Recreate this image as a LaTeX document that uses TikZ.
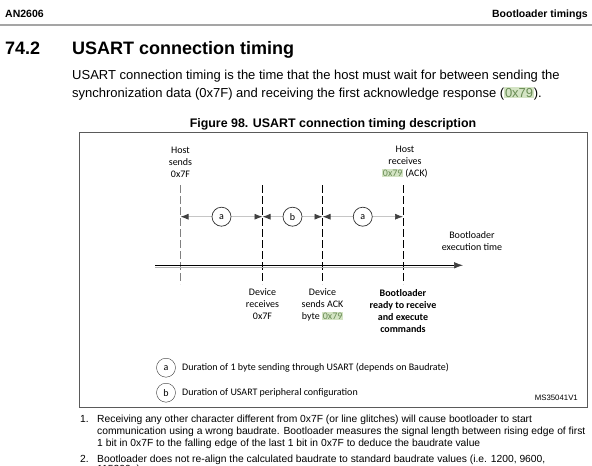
\documentclass[tikz,border=0pt]{standalone}
\usepackage{fontspec}
\setmainfont{Liberation Sans}
\newfontfamily\figfont{Carlito}
\usetikzlibrary{arrows.meta, positioning, calc}

\definecolor{hlgreen}{RGB}{212,228,196}
\definecolor{hltext}{RGB}{105,140,85}
\definecolor{rulegray}{RGB}{165,165,165}
\definecolor{framegray}{RGB}{90,90,90}
\newcommand{\hlx}[1]{{\setlength{\fboxsep}{0.7pt}\colorbox{hlgreen}{\textcolor{hltext}{#1}}}}

\begin{document}
\begin{tikzpicture}[x=1pt, y=-1pt, >=Latex,
    every node/.style={inner sep=0pt},
    body/.style={anchor=base west, font=\fontsize{13}{15}\selectfont},
    note/.style={anchor=base west, font=\fontsize{10.3}{12}\selectfont},
    fig/.style={align=center, font=\figfont\fontsize{10}{12}\selectfont},
    vline/.style={dash pattern=on 8pt off 3pt, line width=0.6pt},
    circ/.style={circle, draw=black!80, fill=white, text=black, minimum size=19pt,
        font=\figfont\fontsize{10}{12}\selectfont},
    span/.style={gray!45, line width=0.7pt,
        {Latex[length=8pt,width=6pt,color=black!75]}-{Latex[length=8pt,width=6pt,color=black!75]}}]
    \useasboundingbox (0,0) rectangle (592,466);
    \clip (0,0) rectangle (592,466);

    % page header
    \node[anchor=base west, font=\fontsize{10.5}{12}\bfseries] (docid) at (5,17) {AN2606};
    \node[anchor=base east, font=\fontsize{10.5}{12}\bfseries] (chap) at (588,17) {Bootloader timings};
    \draw[rulegray, line width=1.6pt] (0,25) -- (592,25);

    % section
    \node[anchor=base west, font=\fontsize{18}{20}\bfseries] (secno) at (5,54) {74.2};
    \node[anchor=base west, font=\fontsize{18}{20}\bfseries] (sectitle) at (72,54) {USART connection timing};
    \node[body] (par1) at (72,79) {USART connection timing is the time that the host must wait for between sending the};
    \node[body] (par2) at (72,97) {synchronization data (0x7F) and receiving the first acknowledge response (\hlx{0x79}).};

    % figure
    \node[anchor=base, font=\fontsize{12.4}{14}\bfseries] (caption) at (333,127) {Figure 98. USART connection timing description};
    \draw[framegray, line width=0.7pt] (79,132) rectangle (587,407);

    \foreach \i/\x in {0/180.5, 1/262.5, 2/322.5, 3/403} {
        \coordinate (t\i) at (\x,185);
        \coordinate (r\i) at (\x,216.7);
        \coordinate (b\i) at (\x,284);
    }
    \draw[vline, gray, line width=1.1pt] (t0) -- (b0);
    \foreach \i in {1,2,3}
        \draw[vline] (t\i) -- (b\i);

    \node[fig] (hostsend) at (180.5,162) {Host\\sends\\0x7F};
    \node[fig] (hostrecv) at (405,162) {Host\\receives\\\hlx{0x79} (ACK)};
    \node[fig] (exectime) at (472,241) {Bootloader\\execution time};

    \draw[span] (r0) -- node[circ] (ca1) {a} (r1);
    \draw[span] (r1) -- node[circ] (cb) {b} (r2);
    \draw[span] (r2) -- node[circ] (ca2) {a} (r3);

    % time axis
    \coordinate (axstart) at (155,265.3);
    \coordinate (axend) at (463,265.3);
    \draw[gray!60, line width=0.6pt] ([yshift=-2pt]axstart) -- ([yshift=-2pt,xshift=-9pt]axend);
    \draw[line width=0.7pt, -{Latex[length=9pt,width=6.5pt,color=black!75]}] (axstart) -- (axend);

    \node[fig] (devrecv) at (262.5,304.5) {Device\\receives\\0x7F};
    \node[fig] (devack) at (322.5,304.5) {Device\\sends ACK\\byte \hlx{0x79}};
    \node[fig, font=\figfont\fontsize{10}{12}\selectfont\bfseries] (ready) at (403,311) {Bootloader\\ready to receive\\and execute\\commands};

    % key
    \node[circ] (keya) at (166,367.7) {a};
    \node[fig, anchor=west] (keyatext) at (182,367.7) {Duration of 1 byte sending through USART (depends on Baudrate)};
    \node[circ] (keyb) at (166,392.7) {b};
    \node[fig, anchor=west] (keybtext) at (182,392.7) {Duration of USART peripheral configuration};
    \node[anchor=base east, font=\fontsize{7.8}{9}\selectfont] (msref) at (578,400) {MS35041V1};

    % notes
    \node[note] (n1) at (80,422) {1.};
    \node[note] (n1a) at (97,422) {Receiving any other character different from 0x7F (or line glitches) will cause bootloader to start};
    \node[note] (n1b) at (97,434) {communication using a wrong baudrate. Bootloader measures the signal length between rising edge of first};
    \node[note] (n1c) at (97,446) {1 bit in 0x7F to the falling edge of the last 1 bit in 0x7F to deduce the baudrate value};
    \node[note] (n2) at (80,462) {2.};
    \node[note] (n2a) at (97,462) {Bootloader does not re-align the calculated baudrate to standard baudrate values (i.e. 1200, 9600,};
    \node[note] (n2b) at (97,472) {115200..)};
\end{tikzpicture}
\end{document}
